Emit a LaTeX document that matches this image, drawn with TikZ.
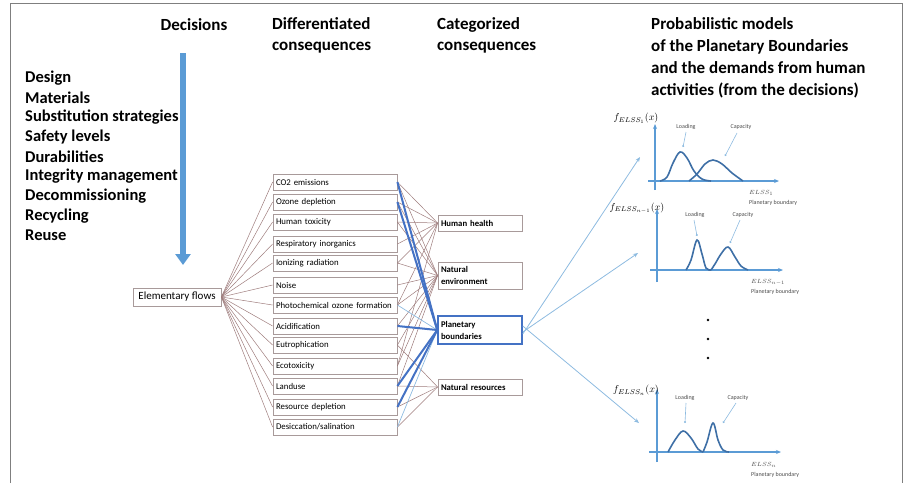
\documentclass[tikz,border=0pt]{standalone}
\usepackage{fontspec}
\setmainfont{Carlito}
\usetikzlibrary{arrows.meta}

\definecolor{linkbrown}{HTML}{9E7C7C}
\definecolor{boxedge}{HTML}{A89A9A}
\definecolor{pbblue}{HTML}{4472C4}
\definecolor{thinblue}{HTML}{8DBBE0}
\definecolor{arrowblue}{HTML}{5B9BD5}
\definecolor{curveblue}{HTML}{3E6FA6}
\definecolor{framegray}{HTML}{7F7F7F}

\tikzset{
  heading/.style={font=\fontsize{17}{21}\selectfont\bfseries, align=left, inner sep=0pt},
  decision/.style={font=\fontsize{16.5}{20}\selectfont\bfseries, anchor=west, inner sep=0pt},
  impact/.style={draw=boxedge, line width=0.8pt, minimum width=124pt, minimum height=16pt,
    text width=118pt, align=left, inner sep=3pt, font=\fontsize{8.8}{10}\selectfont},
  category/.style={draw=boxedge, line width=0.8pt, minimum width=84pt,
    text width=78pt, align=left, inner sep=3pt, font=\fontsize{8.7}{12}\selectfont\bfseries},
  flowlink/.style={linkbrown, line width=0.5pt},
  pblink/.style={pbblue, line width=2pt},
  pbthin/.style={thinblue, line width=0.7pt},
  modelarrow/.style={thinblue, line width=0.8pt, -{Stealth[length=5pt,width=4pt]}},
  axis/.style={arrowblue, line width=1.3pt, -{Stealth[length=5pt,width=4pt]}},
  density/.style={curveblue, line width=1.6pt},
  pointer/.style={thinblue, line width=0.6pt, -{Circle[length=2pt]}},
  tinylabel/.style={font=\fontsize{6}{7}\selectfont, text=black!70, inner sep=0pt},
  flabel/.style={font=\fontsize{10}{11}\selectfont, inner sep=0pt}
}

\begin{document}
\begin{tikzpicture}[x=1pt, y=-1pt]
\useasboundingbox (0,0) rectangle (909,483);

% outer frame (open at the bottom)
\draw[framegray, line width=0.8pt] (10,483) -- (10,3) -- (902,3) -- (902,483);

% column headings
\node[heading] (hdec) at (194,25) {Decisions};
\node[heading, anchor=west] (hdiff) at (272,35) {Differentiated\\consequences};
\node[heading, anchor=west] (hcat) at (437,35) {Categorized\\consequences};
\node[heading, anchor=west, font=\fontsize{17}{22}\selectfont\bfseries] (hprob) at (651,58)
  {Probabilistic models\\of the Planetary Boundaries\\and the demands from human\\activities (from the decisions)};

% list of decisions
\foreach \t [count=\i] in {Design, Materials, Substitution strategies, Safety levels,
  Durabilities, Integrity management, Decommissioning, Recycling, Reuse}
  \node[decision] (dec\i) at (25,{78+19.7*(\i-1)}) {\t};

% decisions flow downwards
\coordinate (dtop) at (183,53);
\coordinate (dbot) at (183,265);
\draw[arrowblue, line width=6pt, -{Triangle[length=11pt,width=15pt]}] (dtop) -- (dbot);

% elementary flows
\node[draw=boxedge, line width=0.8pt, minimum width=88pt, minimum height=18pt,
  font=\fontsize{11}{12}\selectfont] (flows) at (177,297) {Elementary flows};

% differentiated consequences
\node[impact] (co2)    at (335,182) {CO2 emissions};
\node[impact] (ozone)  at (335,202) {Ozone depletion};
\node[impact] (htox)   at (335,222) {Human toxicity};
\node[impact] (resp)   at (335,244) {Respiratory inorganics};
\node[impact] (ion)    at (335,263) {Ionizing radiation};
\node[impact] (noise)  at (335,285) {Noise};
\node[impact] (photo)  at (335,305) {Photochemical ozone formation};
\node[impact] (acid)   at (335,326) {Acidification};
\node[impact] (eutro)  at (335,345) {Eutrophication};
\node[impact] (ecotox) at (335,366) {Ecotoxicity};
\node[impact] (land)   at (335,386) {Landuse};
\node[impact] (res)    at (335,407) {Resource depletion};
\node[impact] (desic)  at (335,427) {Desiccation/salination};

% categorized consequences
\node[category, minimum height=16pt] (hh) at (480,223) {Human health};
\node[category, minimum height=27pt] (ne) at (480,275.5) {Natural\\environment};
\node[category, minimum height=28pt, draw=pbblue, line width=1.5pt] (pb) at (480,330) {Planetary\\boundaries};
\node[category, minimum height=16pt] (nr) at (480,387) {Natural resources};

% elementary flows fan out to every impact
\foreach \n in {co2,ozone,htox,resp,ion,noise,photo,acid,eutro,ecotox,land,res,desic}
  \draw[flowlink] (flows.east) -- (\n.west);

% impacts to categories
\foreach \n in {co2,ozone,htox,resp,ion,photo,ecotox}
  \draw[flowlink] (\n.east) -- (hh.west);
\foreach \n in {co2,ozone,htox,ion,noise,photo,acid,eutro,ecotox,land}
  \draw[flowlink] (\n.east) -- (ne.west);
\foreach \n in {eutro,land,res,desic}
  \draw[flowlink] (\n.east) -- (nr.west);
\foreach \n in {photo,desic}
  \draw[pbthin] (\n.east) -- (pb.west);
\foreach \n in {co2,ozone,acid,land,res}
  \draw[pblink] (\n.east) -- (pb.west);

% targets of the model arrows
\coordinate (m1) at (640,157);
\coordinate (m2) at (638,253);
\coordinate (m3) at (639,423);
\draw[modelarrow] ([yshift=-4pt]pb.east) -- (m1);
\draw[modelarrow] ([yshift=-2pt]pb.east) -- (m2);
\draw[modelarrow] ([yshift=4pt]pb.east) -- (m3);

% ---- density plot 1
\draw[axis] (655,190) -- (655,124);
\draw[axis] (648,181) -- (779,181);
\draw[density] plot[smooth, tension=0.6] coordinates
  {(660,181) (667,177) (673,163) (680,152) (687,158) (694,171) (702,179) (711,181)};
\draw[density] plot[smooth, tension=0.6] coordinates
  {(689,181) (697,174) (705,164) (713,160) (722,164) (732,173) (743,181)};
\node[flabel] (f1) at (636,118) {$f_{ELSS_1}(x)$};
\node[tinylabel] (l1) at (686,127) {Loading};
\node[tinylabel] (c1) at (741,127) {Capacity};
\draw[pointer] (686,132) -- (683,147);
\draw[pointer] (737,133) -- (725,156);
\node[tinylabel, anchor=west] (e1) at (749,193) {$ELSS_1$};
\node[tinylabel, anchor=west] (p1) at (749,203) {Planetary boundary};

% ---- density plot 2
\draw[axis] (657,282) -- (657,209);
\draw[axis] (650,270) -- (783,270);
\draw[density] plot[smooth, tension=0.6] coordinates
  {(686,270) (691,260) (697,240) (702,254) (706,268) (711,270)};
\draw[density] plot[smooth, tension=0.6] coordinates
  {(711,270) (715,264) (721,254) (728,247) (735,257) (741,266) (748,270)};
\node[flabel] (f2) at (637,208) {$f_{ELSS_{n-1}}(x)$};
\node[tinylabel] (l2) at (695,215) {Loading};
\node[tinylabel] (c2) at (743,215) {Capacity};
\draw[pointer] (694,220) -- (697,236);
\draw[pointer] (740,220) -- (730,243);
\node[tinylabel, anchor=west] (e2) at (751,282) {$ELSS_{n-1}$};
\node[tinylabel, anchor=west] (p2) at (751,292) {Planetary boundary};

% ellipsis between plots
\foreach \y [count=\i] in {320,339,358}
  \fill (708,\y) circle (1.3pt);

% ---- density plot 3
\draw[axis] (657,462) -- (657,389);
\draw[axis] (649,452) -- (781,452);
\draw[density] plot[smooth, tension=0.6] coordinates
  {(668,452) (675,440) (683,431) (691,438) (698,449) (703,452)};
\draw[density] plot[smooth, tension=0.6] coordinates
  {(703,452) (707,442) (713,423) (718,440) (723,450) (729,452)};
\node[flabel] (f3) at (636,390) {$f_{ELSS_n}(x)$};
\node[tinylabel] (l3) at (685,398) {Loading};
\node[tinylabel] (c3) at (738,398) {Capacity};
\draw[pointer] (686,403) -- (685,423);
\draw[pointer] (736,403) -- (723,423);
\node[tinylabel, anchor=west] (e3) at (751,465) {$ELSS_n$};
\node[tinylabel, anchor=west] (p3) at (751,475) {Planetary boundary};

\end{tikzpicture}
\end{document}
